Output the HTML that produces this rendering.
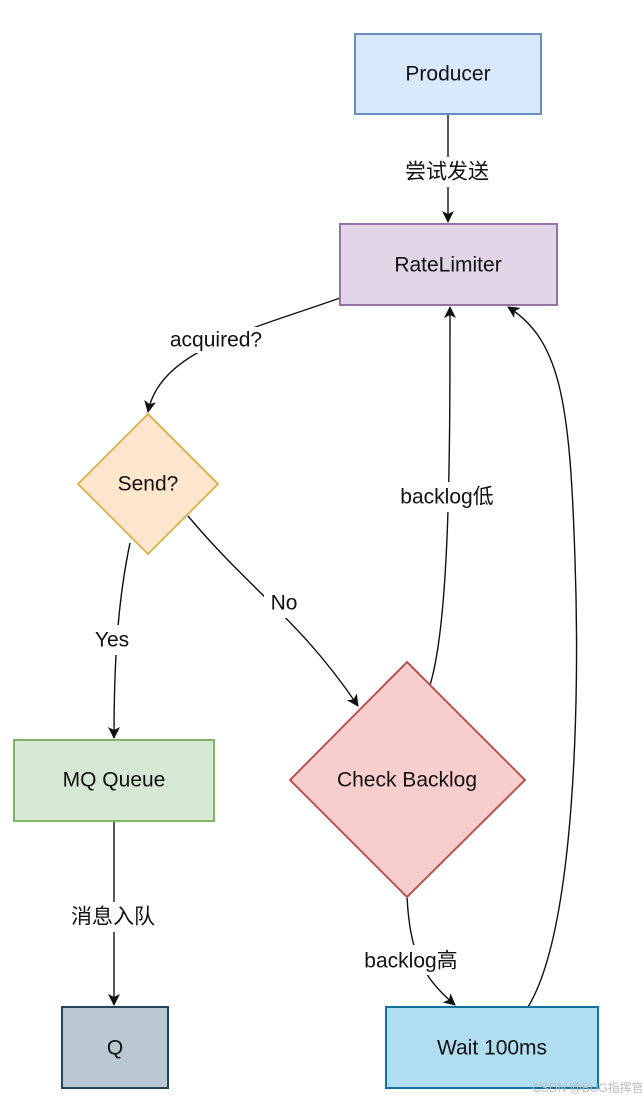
<!DOCTYPE html>
<html><head><meta charset="utf-8"><style>
html,body{margin:0;padding:0;background:#fff;}
svg{display:block;}
text{font-family:"Liberation Sans","Noto Sans CJK SC",sans-serif;font-size:21px;fill:#111;text-anchor:middle;dominant-baseline:central;}
</style></head><body>
<svg width="642" height="1101" viewBox="0 0 642 1101" xmlns="http://www.w3.org/2000/svg">
<defs><marker id="a" markerWidth="14" markerHeight="14" refX="11" refY="6" orient="auto" markerUnits="userSpaceOnUse"><path d="M0,0 L12,6 L0,12 L3,6 Z" fill="#111"/></marker></defs>
<g fill="none" stroke="#111" stroke-width="1.4">
<path d="M448,114 L448,222" marker-end="url(#a)"/>
<path d="M340,298 C250,330 160,350 148,412" marker-end="url(#a)"/>
<path d="M130,543 C118,600 114,660 114,738" marker-end="url(#a)"/>
<path d="M188,516 C250,590 300,620 358,706" marker-end="url(#a)"/>
<path d="M430,685 C450,620 450,450 450,307" marker-end="url(#a)"/>
<path d="M407,897 C410,950 420,975 455,1005" marker-end="url(#a)"/>
<path d="M114,821 L114,1005" marker-end="url(#a)"/>
<path d="M528,1007 C575,930 580,700 575,560 C570,400 560,340 508,307" marker-end="url(#a)"/>
</g>
<g fill="#fff" stroke="none">
<rect x="392" y="157" width="110" height="30"/>
<rect x="160" y="327" width="114" height="26"/>
<rect x="88" y="625" width="48" height="30"/>
<rect x="264" y="588" width="40" height="30"/>
<rect x="388" y="482" width="120" height="30"/>
<rect x="352" y="945" width="118" height="30"/>
<rect x="58" y="902" width="110" height="30"/>
</g>
<rect x="355" y="34" width="186" height="80" fill="#dae8fc" stroke="#6c8ebf" stroke-width="2"/>
<rect x="340" y="224" width="217" height="81" fill="#e1d5e7" stroke="#9673a6" stroke-width="2"/>
<polygon points="148,414 218,484 148,554 78,484" fill="#ffe6cc" stroke="#d6b656" stroke-width="2"/>
<rect x="14" y="740" width="200" height="81" fill="#d5e8d4" stroke="#82b366" stroke-width="2"/>
<polygon points="407,662 525,780 407,897 290,780" fill="#f8cecc" stroke="#b85450" stroke-width="2"/>
<rect x="62" y="1007" width="106" height="81" fill="#bac8d3" stroke="#23445d" stroke-width="2"/>
<rect x="386" y="1007" width="212" height="81" fill="#b1ddf0" stroke="#10739e" stroke-width="2"/>
<text x="448" y="74">Producer</text>
<text x="448" y="265">RateLimiter</text>
<text x="148" y="484">Send?</text>
<text x="114" y="780">MQ Queue</text>
<text x="407" y="780">Check Backlog</text>
<text x="115" y="1048">Q</text>
<text x="492" y="1048">Wait 100ms</text>
<text x="447" y="172">尝试发送</text>
<text x="216" y="340">acquired?</text>
<text x="112" y="640">Yes</text>
<text x="284" y="603">No</text>
<text x="447" y="497">backlog低</text>
<text x="411" y="961">backlog高</text>
<text x="113" y="917">消息入队</text>
<text x="588" y="1088" style="font-size:12px;fill:#bbb">CSDN @BUG指挥官</text>
</svg>
</body></html>
